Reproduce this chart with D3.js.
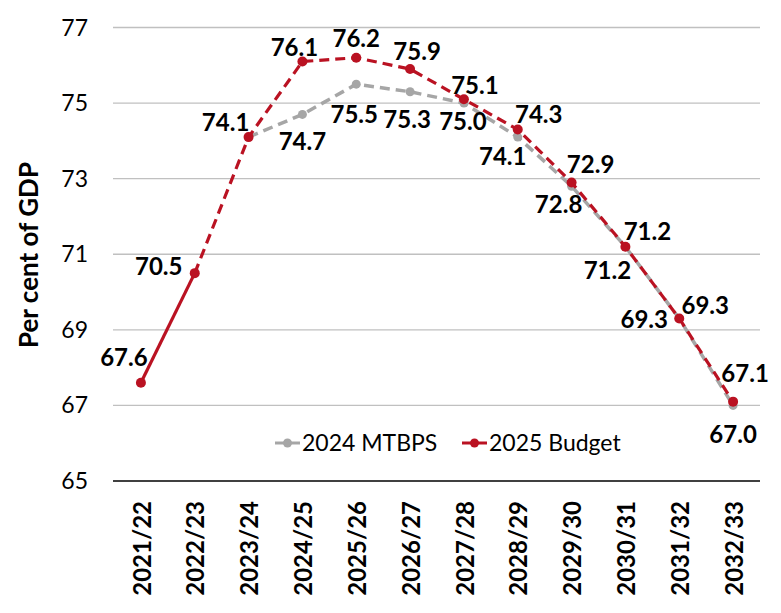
<!DOCTYPE html>
<html><head><meta charset="utf-8">
<script src="https://cdn.jsdelivr.net/npm/d3@7"></script>
<style>body{margin:0;background:#fff}svg{display:block}text{font-family:Lato,"Open Sans",sans-serif}</style>
</head><body><svg id="c" width="781" height="613"></svg>
<script>
const categories = ["2021/22","2022/23","2023/24","2024/25","2025/26","2026/27","2027/28","2028/29","2029/30","2030/31","2031/32","2032/33"];
const mtbps2024 = [null,null,74.1,74.7,75.5,75.3,75.0,74.1,72.8,71.2,69.3,67.0];
const budget2025 = [67.6,70.5,74.1,76.1,76.2,75.9,75.1,74.3,72.9,71.2,69.3,67.1];
const yTicks = [65,67,69,71,73,75,77];
const seriesNames = ["2024 MTBPS","2025 Budget"];
// label offsets (dx, dy) relative to the point
const budgetLabelOff = [[-17,-25],[-36,-7],[-23,-14],[-8,-14],[0,-19],[7,-17],[11,-14],[21,-15],[19,-18],[22,-15],[26,-13],[12,-28]];
const mtbpsLabelOff = [null,null,null,[0,27],[-2,30],[-3,28],[-1,19],[-15,20],[-13,18],[-18,24],[-35,1],[0,29]];

const RED = "#BA1222", GRAY = "#A6A6A6";
const svg = d3.select("#c");
const x = d3.scaleBand().domain(categories).range([114, 760]);
const y = d3.scaleLinear().domain([65,77]).range([481, 27.5]);
const cx = c => x(c) + x.bandwidth()/2;

// gridlines
svg.append("g").selectAll("line").data(yTicks.filter(t=>t>65)).join("line")
  .attr("x1",113).attr("x2",760).attr("y1",d=>y(d)).attr("y2",d=>y(d))
  .attr("stroke","#C0C0C0").attr("stroke-width",1.3);
// y tick labels
svg.append("g").selectAll("text").data(yTicks).join("text")
  .attr("x",88).attr("y",d=>y(d)).attr("dy","0.35em").attr("text-anchor","end")
  .attr("font-size",23).attr("fill","#000").text(d=>d);
// x axis
svg.append("line").attr("x1",113).attr("x2",760).attr("y1",y(65)).attr("y2",y(65)).attr("stroke","#000").attr("stroke-width",1.5);
svg.append("g").selectAll("text").data(categories).join("text")
  .attr("transform",d=>`translate(${cx(d)+1},501) rotate(-90)`)
  .attr("dy","0.36em").attr("text-anchor","end").attr("font-size",24).attr("font-weight","bold").text(d=>d);
// y title
svg.append("text").attr("transform","translate(29,255) rotate(-90)").attr("dy","0.35em")
  .attr("text-anchor","middle").attr("font-size",26).attr("font-weight","bold").text("Per cent of GDP");

const pts = arr => arr.map((v,i)=>({c:categories[i],v,i})).filter(d=>d.v!=null);
const line = d3.line().x(d=>cx(d.c)).y(d=>y(d.v));

// gray series
const g = pts(mtbps2024);
svg.append("path").datum(g).attr("d",line).attr("fill","none").attr("stroke",GRAY)
  .attr("stroke-width",3.5).attr("stroke-dasharray","10,6");
svg.append("g").selectAll("circle").data(g).join("circle")
  .attr("cx",d=>cx(d.c)).attr("cy",d=>y(d.v)).attr("r",4.5).attr("fill",GRAY);

// red series
const r = pts(budget2025);
svg.append("path").datum(r.slice(0,2)).attr("d",line).attr("fill","none").attr("stroke",RED).attr("stroke-width",3.2);
svg.append("path").datum(r.slice(1)).attr("d",line).attr("fill","none").attr("stroke",RED)
  .attr("stroke-width",3.2).attr("stroke-dasharray","10,6");
svg.append("g").selectAll("circle").data(r).join("circle")
  .attr("cx",d=>cx(d.c)).attr("cy",d=>y(d.v)).attr("r",5).attr("fill",RED);

// labels
svg.append("g").selectAll("text").data(r).join("text")
  .attr("x",d=>cx(d.c)+budgetLabelOff[d.i][0]).attr("y",d=>y(d.v)+budgetLabelOff[d.i][1])
  .attr("dy","0.35em").attr("text-anchor","middle").attr("font-size",24).attr("font-weight","bold").text(d=>d.v.toFixed(1));
svg.append("g").selectAll("text").data(g.filter(d=>mtbpsLabelOff[d.i])).join("text")
  .attr("x",d=>cx(d.c)+mtbpsLabelOff[d.i][0]).attr("y",d=>y(d.v)+mtbpsLabelOff[d.i][1])
  .attr("dy","0.35em").attr("text-anchor","middle").attr("font-size",24).attr("font-weight","bold").text(d=>d.v.toFixed(1));

// legend
const leg = [{n:seriesNames[0],c:GRAY,x:275},{n:seriesNames[1],c:RED,x:462}];
const lg = svg.append("g").selectAll("g").data(leg).join("g").attr("transform",d=>`translate(${d.x},443)`);
lg.append("line").attr("x1",0).attr("x2",25).attr("stroke",d=>d.c).attr("stroke-width",3);
lg.append("circle").attr("cx",12.5).attr("r",4.5).attr("fill",d=>d.c);
lg.append("text").attr("x",27).attr("dy","0.35em").attr("font-size",23).text(d=>d.n);
</script></body></html>
